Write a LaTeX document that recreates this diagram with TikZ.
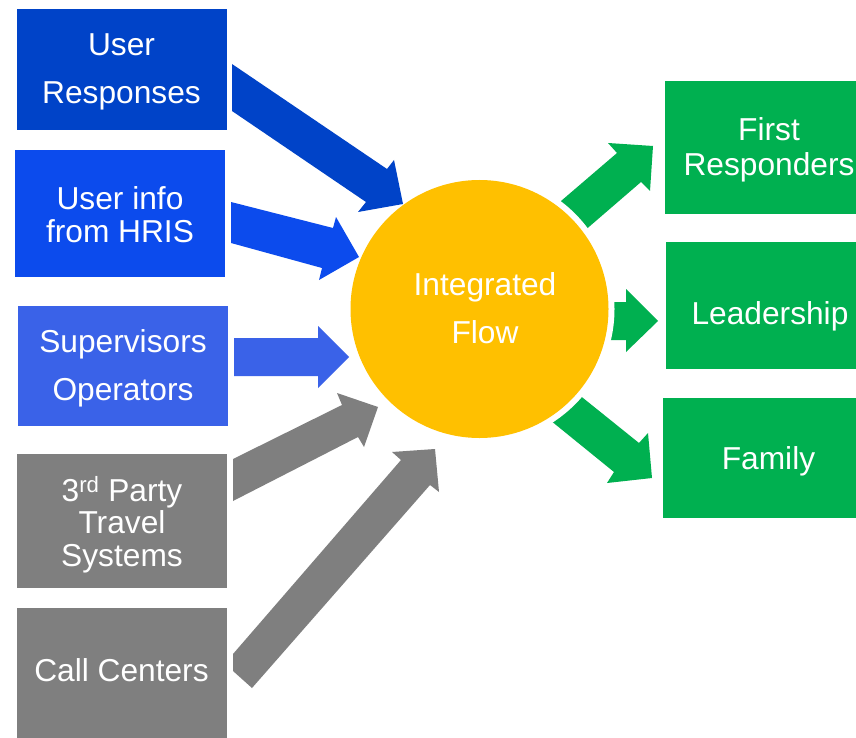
\documentclass[tikz,border=0pt]{standalone}
\usepackage{fontspec}
\setmainfont{Liberation Sans}
\definecolor{bluedark}{RGB}{0,67,200}
\definecolor{bluemid}{RGB}{12,75,237}
\definecolor{bluelight}{RGB}{58,98,232}
\definecolor{grayc}{RGB}{127,127,127}
\definecolor{greenc}{RGB}{0,176,80}
\definecolor{yellowc}{RGB}{255,192,0}
\begin{document}
\begin{tikzpicture}[x=1pt,y=-1pt,
  boxnode/.style={rectangle, draw=none, inner sep=0pt, outer sep=0pt},
  txt/.style={inner sep=0pt, outer sep=0pt, text=white, align=center},
  wide/.style={font=\fontsize{31.7}{48}\selectfont},
  tight/.style={font=\fontsize{31.7}{33}\selectfont},
]
\path[use as bounding box, clip] (0,0) rectangle (856,738);
\fill[white] (0,0) rectangle (856,738);

% left boxes
\node[boxnode, fill=bluedark, minimum width=210pt, minimum height=121pt] (b1) at (122,69.5) {};
\node[boxnode, fill=bluemid, minimum width=210pt, minimum height=127pt] (b2) at (120,213.5) {};
\node[boxnode, fill=bluelight, minimum width=210pt, minimum height=120pt] (b3) at (123,366) {};
\node[boxnode, fill=grayc, minimum width=210pt, minimum height=134pt] (b4) at (122,521) {};
\node[boxnode, fill=grayc, minimum width=210pt, minimum height=140pt] (b5) at (122,678) {};

% right boxes
\node[boxnode, fill=greenc, minimum width=208pt, minimum height=133pt] (r1) at (769,147.5) {};
\node[boxnode, fill=greenc, minimum width=208pt, minimum height=127pt] (r2) at (770,305.5) {};
\node[boxnode, fill=greenc, minimum width=210pt, minimum height=120pt] (r3) at (768,458) {};

% output arrows (green)
\fill[greenc] (533,225) -- (617,153) -- (608,143) -- (653,146) -- (650,191) -- (641,182) -- (561,251) -- cycle;
\fill[greenc] (590,302) -- (626,302) -- (626,289) -- (658,321) -- (626,352) -- (626,340) -- (590,340) -- cycle;
\fill[greenc] (542,365) -- (639,443) -- (648,433) -- (652,478) -- (607,483) -- (614,472) -- (513,390) -- cycle;

% circle with white halo
\fill[white] (479.5,309) circle (135);
\node[circle, fill=yellowc, minimum size=258pt, inner sep=0pt] (hub) at (479.5,309) {};

% input arrows
\fill[bluedark] (232,64) -- (387,169) -- (394,160) -- (403,204) -- (358,212) -- (366,202) -- (232,111) -- cycle;
\fill[bluemid] (231,202) -- (333,228) -- (336,217) -- (359,257) -- (319,280) -- (322,268) -- (231,243) -- cycle;
\fill[bluelight] (234,338) -- (318,338) -- (318,326) -- (349,357) -- (318,388) -- (318,376) -- (234,376) -- cycle;
\fill[grayc] (233,459) -- (342,405) -- (337,393) -- (378,407) -- (364,447) -- (358,437) -- (233,501) -- cycle;
\fill[grayc] (233,654) -- (401,460) -- (392,452) -- (435,449) -- (439,492) -- (430,485) -- (252,688) -- (233,671) -- cycle;

% texts
\node[txt, wide] (t1) at (121.5,72.2) {User\\Responses};
\node[txt, tight] (t2) at (120,214.2) {User info\\from HRIS};
\node[txt, wide] (t3) at (123,368) {Supervisors\\Operators};
\node[txt, font=\fontsize{31.7}{32.5}\selectfont] (t4) at (122,524.5) {3\textsuperscript{rd} Party\\Travel\\Systems};
\node[txt, tight] (t5) at (121.5,670) {Call Centers};
\node[txt, wide] (th) at (485,308) {Integrated\\Flow};
\node[txt, font=\fontsize{31.7}{35}\selectfont] (tr1) at (769,149.6) {First\\Responders};
\node[txt, tight] (tr2) at (770,316) {Leadership};
\node[txt, tight] (tr3) at (768.5,461) {Family};
\end{tikzpicture}
\end{document}
